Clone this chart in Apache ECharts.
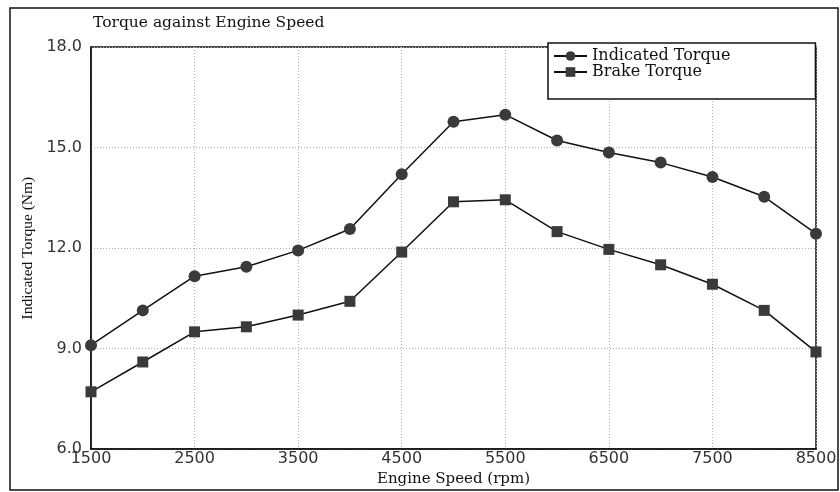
<!DOCTYPE html>
<html>
<head>
<meta charset="utf-8">
<script src="https://cdn.jsdelivr.net/npm/echarts@6/dist/echarts.min.js"></script>
<style>html,body{margin:0;padding:0;background:#fff;}#c{width:840px;height:492px;}</style>
</head>
<body>
<div id="c"></div>
<script>
const speeds = [1500, 2000, 2500, 3000, 3500, 4000, 4500, 5000, 5500, 6000, 6500, 7000, 7500, 8000, 8500];
const indicatedTorque = [9.1, 10.14, 11.16, 11.44, 11.93, 12.57, 14.2, 15.77, 15.98, 15.21, 14.85, 14.55, 14.12, 13.53, 12.43];
const brakeTorque = [7.71, 8.6, 9.5, 9.65, 10.0, 10.41, 11.88, 13.38, 13.44, 12.49, 11.96, 11.5, 10.92, 10.14, 8.9];
const yTicks = [6, 9, 12, 15, 18];
const xTicks = [1500, 2500, 3500, 4500, 5500, 6500, 7500, 8500];

const chart = echarts.init(document.getElementById('c'), null, {renderer: 'canvas'});
const serif = 'DejaVu Serif';
const sans = 'DejaVu Sans';
const pair = arr => speeds.map((s, i) => [s, arr[i]]);

chart.setOption({
  animation: false,
  backgroundColor: '#fff',
  title: {
    text: 'Torque against Engine Speed',
    left: 88, top: 10,
    textStyle: {fontFamily: serif, fontSize: 15.5, fontWeight: 'normal', color: '#111'}
  },
  legend: {
    orient: 'vertical',
    left: 548, top: 43,
    itemWidth: 33, itemHeight: 12, itemGap: 0,
    padding: [5, 85, 19, 5],
    borderColor: '#111', borderWidth: 1.5, backgroundColor: '#fff',
    textStyle: {fontFamily: serif, fontSize: 16, color: '#111'},
    data: ['Indicated Torque', 'Brake Torque']
  },
  grid: {left: 91, top: 47, right: 24, bottom: 42, show: true, borderColor: '#111', borderWidth: 1.5, backgroundColor: 'transparent'},
  xAxis: {
    type: 'value', min: xTicks[0], max: xTicks[xTicks.length - 1], interval: 1000,
    name: 'Engine Speed (rpm)', nameLocation: 'middle', nameGap: 14,
    nameTextStyle: {fontFamily: serif, fontSize: 15, color: '#111'},
    axisLine: {lineStyle: {color: '#111', width: 1.5}},
    axisTick: {show: false},
    axisLabel: {fontFamily: sans, fontSize: 16, color: '#333', margin: 2, formatter: v => String(v)},
    splitLine: {show: true, lineStyle: {color: '#b0b0b0', type: [1, 2], width: 1}}
  },
  yAxis: {
    type: 'value', min: yTicks[0], max: yTicks[yTicks.length - 1], interval: 3,
    name: 'Indicated Torque (Nm)', nameLocation: 'middle', nameGap: 54,
    nameTextStyle: {fontFamily: 'Liberation Serif', fontSize: 15.5, color: '#111'},
    axisLine: {show: true, lineStyle: {color: '#111', width: 1.5}},
    axisTick: {show: false},
    axisLabel: {fontFamily: sans, fontSize: 16, color: '#333', margin: 9, formatter: v => v.toFixed(1)},
    splitLine: {show: true, lineStyle: {color: '#b0b0b0', type: [1, 2], width: 1}}
  },
  graphic: [{
    type: 'rect', silent: true, z: 100,
    shape: {x: 10, y: 8, width: 828, height: 482},
    style: {fill: 'none', stroke: '#111', lineWidth: 1.5}
  }],
  series: [{
    name: 'Indicated Torque', type: 'line', data: pair(indicatedTorque),
    symbol: 'circle', symbolSize: 12,
    itemStyle: {color: '#3a3a3a'},
    lineStyle: {color: '#111', width: 1.5}
  }, {
    name: 'Brake Torque', type: 'line', data: pair(brakeTorque),
    symbol: 'rect', symbolSize: 11,
    itemStyle: {color: '#3a3a3a'},
    lineStyle: {color: '#111', width: 1.5}
  }]
});
</script>
</body>
</html>
